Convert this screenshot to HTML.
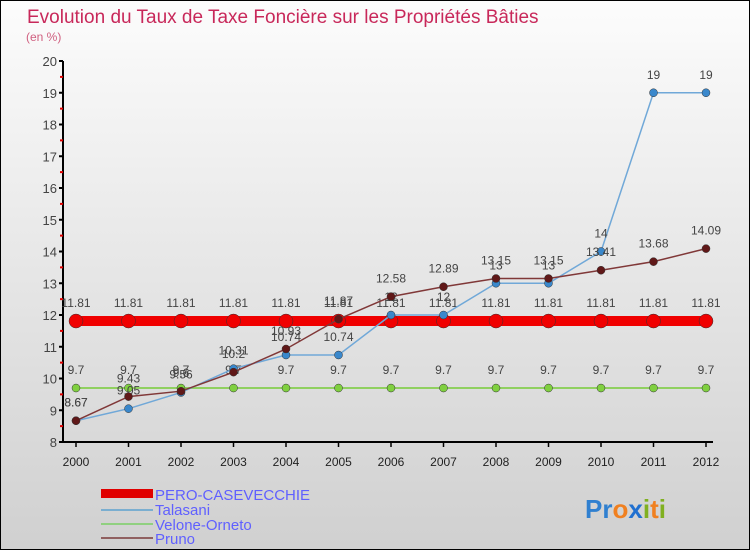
<!DOCTYPE html>
<html><head><meta charset="utf-8"><style>
body{margin:0}
#c{width:748px;height:548px;border:1px solid #000;background:linear-gradient(#fcfcfc,#d0d0d0);position:relative;overflow:hidden;font-family:"Liberation Sans",sans-serif}
</style></head><body>
<div id="c">
<svg id="s" width="748" height="548" xmlns="http://www.w3.org/2000/svg">
<text x="26" y="22" font-size="19" fill="#c8285a">Evolution du Taux de Taxe Foncière sur les Propriétés Bâties</text>
<text x="25" y="40" font-size="12" fill="#d06080">(en %)</text>
<g id="axes"></g><g id="series"></g>
<g>
<rect x="100" y="488" width="52" height="9" fill="#e00000"/>
<text x="154" y="499" font-size="15" fill="#6060ff">PERO-CASEVECCHIE</text>
<line x1="100" y1="509" x2="152" y2="509" stroke="#7aaed0" stroke-width="2"/>
<text x="154" y="514" font-size="15" fill="#6060ff">Talasani</text>
<line x1="100" y1="523" x2="152" y2="523" stroke="#90d080" stroke-width="2"/>
<text x="154" y="529" font-size="15" fill="#6060ff">Velone-Orneto</text>
<line x1="100" y1="537" x2="152" y2="537" stroke="#906060" stroke-width="2"/>
<text x="154" y="543" font-size="15" fill="#6060ff">Pruno</text>
</g>
<g font-size="26" font-weight="bold">
<text x="584" y="517"><tspan fill="#3080d0">Pr</tspan><tspan fill="#f08020">o</tspan><tspan fill="#2070d0">x</tspan><tspan fill="#80b020">i</tspan><tspan fill="#f08020">t</tspan><tspan fill="#80b020">i</tspan></text>
</g>
</svg>
</div>
<script>
const years=[2000,2001,2002,2003,2004,2005,2006,2007,2008,2009,2010,2011,2012];
const yTicks=[8,9,10,11,12,13,14,15,16,17,18,19,20];
const pero=[11.81,11.81,11.81,11.81,11.81,11.81,11.81,11.81,11.81,11.81,11.81,11.81,11.81];
const talasani=[8.67,9.05,9.56,10.31,10.74,10.74,12,12,13,13,14,19,19];
const velone=[9.7,9.7,9.7,9.7,9.7,9.7,9.7,9.7,9.7,9.7,9.7,9.7,9.7];
const pruno=[8.67,9.43,9.6,10.2,10.93,11.87,12.58,12.89,13.15,13.15,13.41,13.68,14.09];
const NS="http://www.w3.org/2000/svg";
const xS=i=>75+i*52.5;
const yS=v=>441-(v-8)*31.75;
function mk(t,a,p){const e=document.createElementNS(NS,t);for(const k in a)e.setAttribute(k,a[k]);p.appendChild(e);return e;}
const ax=document.getElementById('axes');
const yAxis=mk('line',{x1:62,y1:60,x2:62,y2:441,stroke:'#000','stroke-width':2},ax);


const xAxis=mk('line',{x1:62,y1:441,x2:712,y2:441,stroke:'#000','stroke-width':2},ax);


yTicks.forEach(v=>{
  mk('line',{x1:58,y1:yS(v),x2:62,y2:yS(v),stroke:'#000','stroke-width':2},ax);
  if(v<20)mk('line',{x1:59,y1:yS(v+0.5),x2:62,y2:yS(v+0.5),stroke:'#e00000','stroke-width':2},ax);
  const t=mk('text',{x:56,y:yS(v)+5,'font-size':13,fill:'#444','text-anchor':'end'},ax);
  t.textContent=v;
  
  
});
years.forEach((y,i)=>{
  mk('line',{x1:xS(i),y1:441,x2:xS(i),y2:446,stroke:'#000','stroke-width':1.5},ax);
  const t=mk('text',{x:xS(i),y:465,'font-size':12,fill:'#222','text-anchor':'middle'},ax);
  t.textContent=y;
  
  
});
const sg=document.getElementById('series');
function series(name,vals,stroke,width,fill,r){
  const g=mk('g',{},sg);
  
  
  mk('polyline',{points:vals.map((v,i)=>xS(i)+','+yS(v)).join(' '),fill:'none',stroke:stroke,'stroke-width':width},g);
  vals.forEach((v,i)=>{
    const c=mk('circle',{cx:xS(i),cy:yS(v),r:r,fill:fill,stroke:'#333','stroke-width':0.5},g);
    
    
    const t=mk('text',{x:xS(i),y:yS(v)-14,'font-size':12,fill:'#444','text-anchor':'middle'},g);
    t.textContent=v;
    
    
  });
}
series('velone',velone,'#90d060',2,'#80d040',4);
series('pero',pero,'#f00000',10,'#f00000',7);
series('talasani',talasani,'#70a8d8',1.5,'#3a88cc',4);
series('pruno',pruno,'#803838',1.5,'#601818',4);
</script>
</body></html>
